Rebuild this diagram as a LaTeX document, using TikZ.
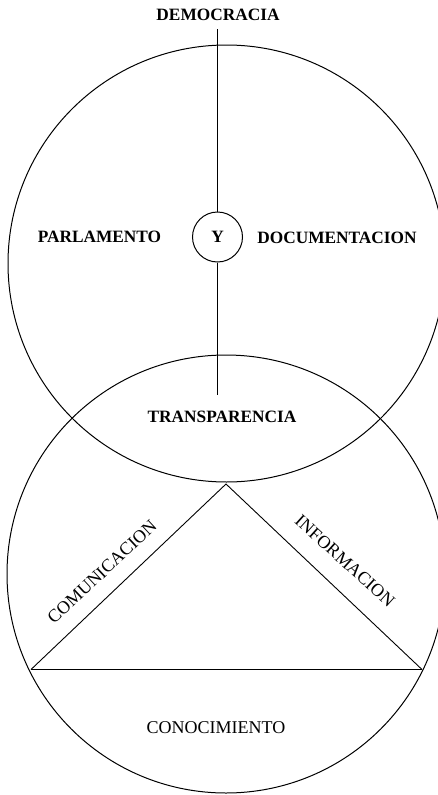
\documentclass[tikz,border=0pt]{standalone}
\usepackage{fontspec}
\setmainfont{Liberation Serif}
\begin{document}
\begin{tikzpicture}[x=1pt,y=-1pt,
  ring/.style={circle,draw,line width=1pt,inner sep=0pt},
  boldlabel/.style={inner sep=0pt,font=\fontsize{17.3}{17.3}\selectfont\bfseries},
  plainlabel/.style={inner sep=0pt,font=\fontsize{18}{18}\selectfont},
  edge/.style={line width=0.9pt}]
\useasboundingbox (0,0) rectangle (438,795);
% big circles
\node[ring,minimum size=437pt] (upper) at (226.5,263.5) {};
\node[ring,minimum size=438pt] (lower) at (226,574) {};
% central small circle
\node[ring,minimum size=50pt,font=\fontsize{17.3}{17.3}\selectfont\bfseries] (y) at (217.5,237) {Y};
% labels
\node[boldlabel] (dem) at (218,15) {DEMOCRACIA};
\node[boldlabel] (parl) at (99.5,237) {PARLAMENTO};
\node[boldlabel] (doc) at (337,238) {DOCUMENTACION};
\node[boldlabel] (trans) at (222,417) {TRANSPARENCIA};
\node[plainlabel] (cono) at (216,728) {CONOCIMIENTO};
\node[plainlabel,rotate=43] (comu) at (102,572) {COMUNICACION};
\node[plainlabel,rotate=-42] (info) at (345,561) {INFORMACION};
% vertical axis
\coordinate (axtop) at (217.5,29);
\coordinate (axbot) at (217.5,395);
\draw[edge] (axtop) -- (y.north);
\draw[edge] (y.south) -- (axbot);
% triangle
\coordinate (apex) at (226,484);
\coordinate (bl) at (31,669.5);
\coordinate (br) at (422,669.5);
\draw[edge] (bl) -- (apex) -- (br);
\draw[line width=1.2pt] (bl) -- (br);
\end{tikzpicture}
\end{document}
